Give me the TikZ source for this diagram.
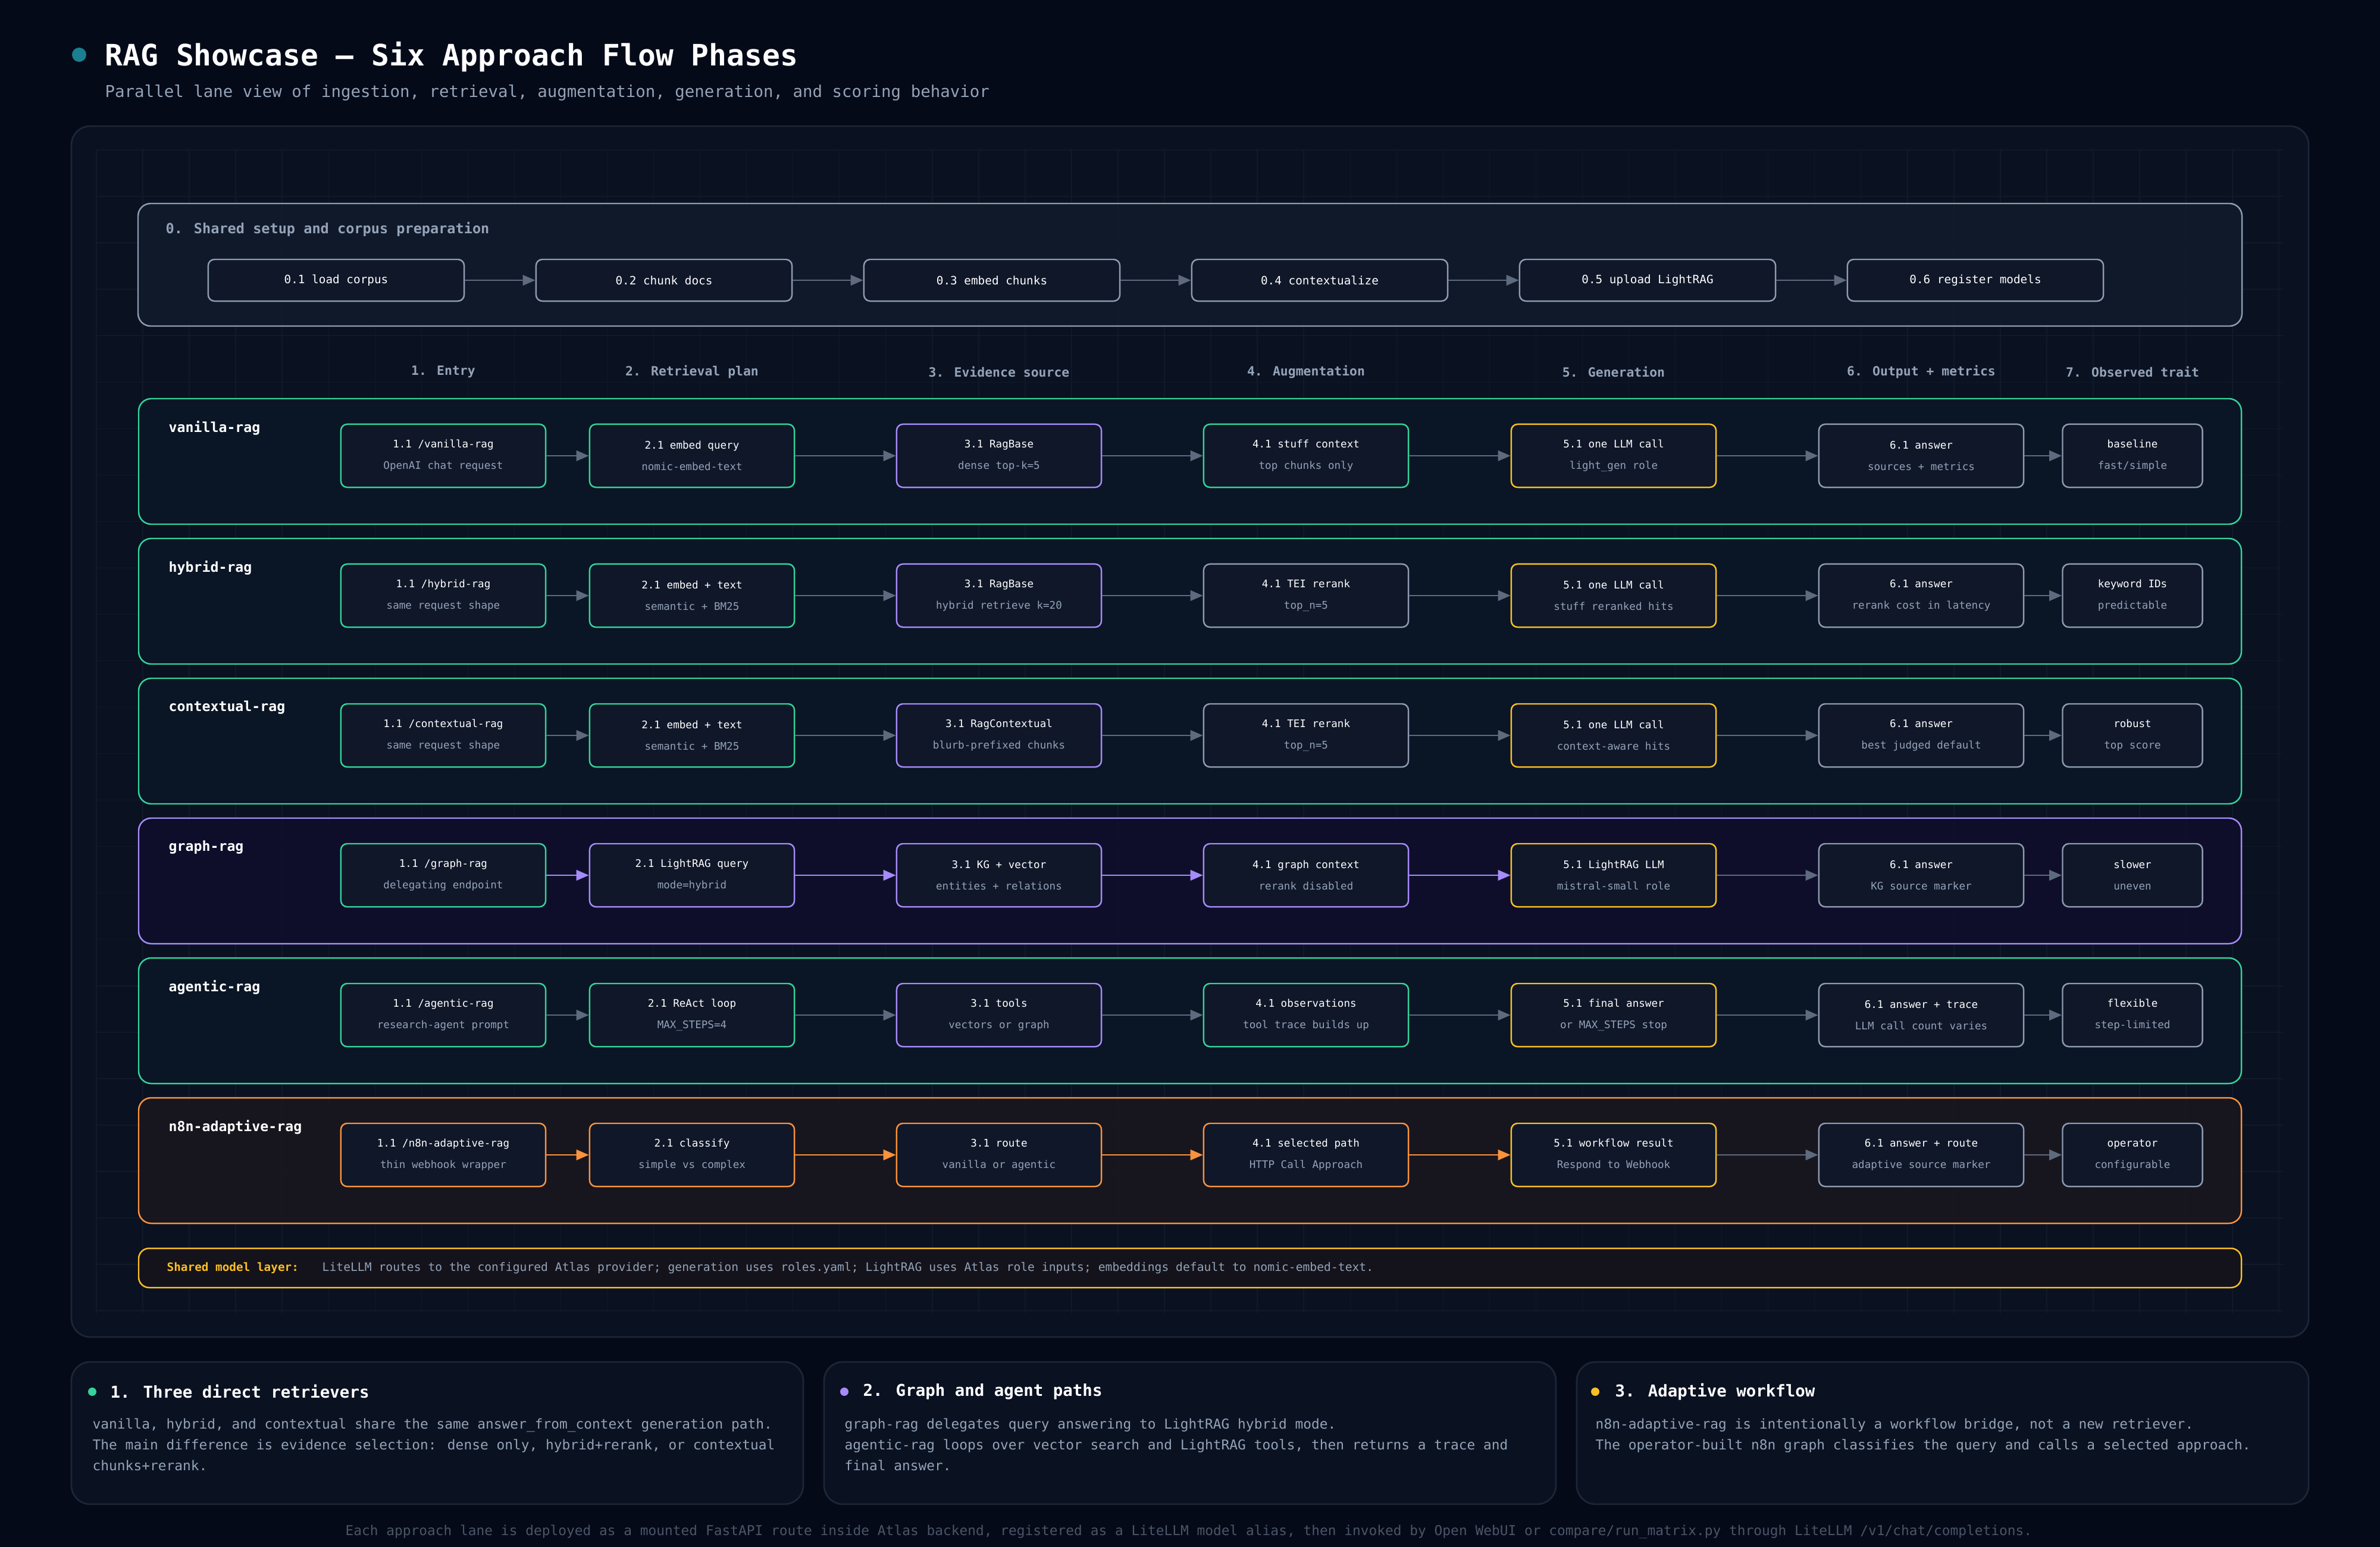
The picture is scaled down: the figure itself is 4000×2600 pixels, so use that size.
\documentclass[tikz,border=0pt]{standalone}
\usepackage{fontspec}
\setmainfont{DejaVu Sans Mono}
\usepackage{xcolor}
\definecolor{bgdark}{HTML}{050A18}
\definecolor{panelfill}{HTML}{0A1121}
\definecolor{panelline}{HTML}{1C2637}
\definecolor{gridcol}{HTML}{111A2A}
\definecolor{setupfill}{HTML}{111A2B}
\definecolor{slate}{HTML}{8E9BB0}
\definecolor{subgray}{HTML}{94A3B8}
\definecolor{arrowgray}{HTML}{5E6A7D}
\definecolor{cellfill}{HTML}{0F1729}
\definecolor{mygreen}{HTML}{34D399}
\definecolor{mypurple}{HTML}{A78BFA}
\definecolor{myamber}{HTML}{FBBF24}
\definecolor{myorange}{HTML}{FB923C}
\definecolor{myteal}{HTML}{1A7F91}
\definecolor{greenlane}{HTML}{0A1626}
\definecolor{purplelane}{HTML}{0F0E2C}
\definecolor{orangelane}{HTML}{19171F}
\definecolor{amberfill}{HTML}{14131B}
\definecolor{footgray}{HTML}{4B5566}
\usepackage{tikz}
\usetikzlibrary{arrows.meta}
\newcommand{\cellText}[2]{#1\\{\color{subgray}#2}}

\begin{document}
\begin{tikzpicture}[x=0.01cm,y=-0.01cm,line join=round,>={Triangle[length=6pt,width=5pt]}]
	\tikzstyle{cell}=[draw,rounded corners=3pt,fill=cellfill,line width=0.7pt,minimum width=3.44cm,minimum height=1.06cm,align=center,text=white,font=\fontsize{5}{10.2}\selectfont,inner sep=0pt];
	\tikzstyle{gbox}=[cell,draw=mygreen];
	\tikzstyle{pbox}=[cell,draw=mypurple];
	\tikzstyle{ybox}=[cell,draw=myamber];
	\tikzstyle{obox}=[cell,draw=myorange];
	\tikzstyle{wbox}=[cell,draw=slate];
	\tikzstyle{trait}=[minimum width=2.35cm];
	\tikzstyle{prep}=[draw=slate,rounded corners=3pt,fill=cellfill,line width=0.7pt,minimum width=4.3cm,minimum height=0.7cm,text=white,font=\fontsize{5.5}{6.6}\selectfont];
	\tikzstyle{flow}=[->,draw=arrowgray,line width=0.8pt];
	\tikzstyle{lane}=[rounded corners=6pt,line width=0.7pt,fill opacity=0.92];
	\tikzstyle{lanelabel}=[anchor=west,text=white,font=\bfseries\fontsize{6.6}{8}\selectfont,inner sep=0pt];
	\tikzstyle{colhead}=[text=subgray,font=\bfseries\fontsize{6.1}{7.3}\selectfont,inner sep=0pt];
	\tikzstyle{card}=[fill=panelfill,draw=panelline,line width=0.8pt,rounded corners=9pt];
	\tikzstyle{cardhead}=[anchor=west,text=white,font=\bfseries\fontsize{7.8}{9.4}\selectfont,inner sep=0pt];
	\tikzstyle{cardbody}=[anchor=north west,align=left,text=subgray,font=\fontsize{6.5}{9.96}\selectfont,inner sep=0pt];
	%%
	\useasboundingbox (0,0) rectangle (4000,2600);
	\fill[bgdark] (0,0) rectangle (4000,2600);
	%% Title
	\fill[myteal] (133,92) circle[radius=12];
	\node[anchor=west,text=white,font=\bfseries\fontsize{14.1}{17}\selectfont,inner sep=0pt] (title) at (176,96) {RAG Showcase – Six Approach Flow Phases};
	\node[anchor=west,text=subgray,font=\fontsize{7.8}{9.4}\selectfont,inner sep=0pt] (subtitle) at (176,156) {Parallel lane view of ingestion, retrieval, augmentation, generation, and scoring behavior};
	%% Panel and grid
	\path[fill=panelfill,draw=panelline,line width=0.8pt,rounded corners=9pt] (120,212) rectangle (3880,2247);
	\begin{scope}[shift={(162,252)}]
		\draw[gridcol,line width=0.4pt,step=0.78cm] (0,0) grid (3675,1955);
	\end{scope}
	%% Shared setup
	\path[fill=setupfill,draw=slate,line width=0.7pt,rounded corners=6pt,fill opacity=0.95] (232,342) rectangle (3768,548);
	\node[anchor=west,text=subgray,font=\bfseries\fontsize{6.7}{8}\selectfont,inner sep=0pt] (prephead) at (278,385) {0. Shared setup and corpus preparation};
	\node[prep] (s1) at (565,471)  {0.1 load corpus};
	\node[prep] (s2) at (1116,471) {0.2 chunk docs};
	\node[prep] (s3) at (1667,471) {0.3 embed chunks};
	\node[prep] (s4) at (2218,471) {0.4 contextualize};
	\node[prep] (s5) at (2769,471) {0.5 upload LightRAG};
	\node[prep] (s6) at (3320,471) {0.6 register models};
	\draw[flow] (s1) -- (s2);
	\draw[flow] (s2) -- (s3);
	\draw[flow] (s3) -- (s4);
	\draw[flow] (s4) -- (s5);
	\draw[flow] (s5) -- (s6);
	%% Column heads
	\node[colhead] (c1) at (745,625)  {1. Entry};
	\node[colhead] (c2) at (1163,625) {2. Retrieval plan};
	\node[colhead] (c3) at (1679,625) {3. Evidence source};
	\node[colhead] (c4) at (2195,625) {4. Augmentation};
	\node[colhead] (c5) at (2712,625) {5. Generation};
	\node[colhead] (c6) at (3229,625) {6. Output + metrics};
	\node[colhead] (c7) at (3584,625) {7. Observed trait};
	%% Lanes
	\path[lane,draw=mygreen,fill=greenlane]   (233,670)  rectangle (3767,881);
	\path[lane,draw=mygreen,fill=greenlane]   (233,905)  rectangle (3767,1116);
	\path[lane,draw=mygreen,fill=greenlane]   (233,1140) rectangle (3767,1351);
	\path[lane,draw=mypurple,fill=purplelane] (233,1375) rectangle (3767,1586);
	\path[lane,draw=mygreen,fill=greenlane]   (233,1610) rectangle (3767,1821);
	\path[lane,draw=myorange,fill=orangelane] (233,1845) rectangle (3767,2056);
	\node[lanelabel] (lv) at (283,719)  {vanilla-rag};
	\node[lanelabel] (lh) at (283,954)  {hybrid-rag};
	\node[lanelabel] (lc) at (283,1189) {contextual-rag};
	\node[lanelabel] (lg) at (283,1424) {graph-rag};
	\node[lanelabel] (la) at (283,1659) {agentic-rag};
	\node[lanelabel] (ln) at (283,1894) {n8n-adaptive-rag};
	%% vanilla-rag
	\node[gbox] (v1) at (745,766)  {\cellText{1.1 /vanilla-rag}{OpenAI chat request}};
	\node[gbox] (v2) at (1163,766) {\cellText{2.1 embed query}{nomic-embed-text}};
	\node[pbox] (v3) at (1679,766) {\cellText{3.1 RagBase}{dense top-k=5}};
	\node[gbox] (v4) at (2195,766) {\cellText{4.1 stuff context}{top chunks only}};
	\node[ybox] (v5) at (2712,766) {\cellText{5.1 one LLM call}{light\_gen role}};
	\node[wbox] (v6) at (3229,766) {\cellText{6.1 answer}{sources + metrics}};
	\node[wbox,trait] (v7) at (3584,766) {\cellText{baseline}{fast/simple}};
	\draw[flow] (v1) -- (v2);
	\draw[flow] (v2) -- (v3);
	\draw[flow] (v3) -- (v4);
	\draw[flow] (v4) -- (v5);
	\draw[flow] (v5) -- (v6);
	\draw[flow] (v6) -- (v7);
	%% hybrid-rag
	\node[gbox] (h1) at (745,1001)  {\cellText{1.1 /hybrid-rag}{same request shape}};
	\node[gbox] (h2) at (1163,1001) {\cellText{2.1 embed + text}{semantic + BM25}};
	\node[pbox] (h3) at (1679,1001) {\cellText{3.1 RagBase}{hybrid retrieve k=20}};
	\node[wbox] (h4) at (2195,1001) {\cellText{4.1 TEI rerank}{top\_n=5}};
	\node[ybox] (h5) at (2712,1001) {\cellText{5.1 one LLM call}{stuff reranked hits}};
	\node[wbox] (h6) at (3229,1001) {\cellText{6.1 answer}{rerank cost in latency}};
	\node[wbox,trait] (h7) at (3584,1001) {\cellText{keyword IDs}{predictable}};
	\draw[flow] (h1) -- (h2);
	\draw[flow] (h2) -- (h3);
	\draw[flow] (h3) -- (h4);
	\draw[flow] (h4) -- (h5);
	\draw[flow] (h5) -- (h6);
	\draw[flow] (h6) -- (h7);
	%% contextual-rag
	\node[gbox] (x1) at (745,1236)  {\cellText{1.1 /contextual-rag}{same request shape}};
	\node[gbox] (x2) at (1163,1236) {\cellText{2.1 embed + text}{semantic + BM25}};
	\node[pbox] (x3) at (1679,1236) {\cellText{3.1 RagContextual}{blurb-prefixed chunks}};
	\node[wbox] (x4) at (2195,1236) {\cellText{4.1 TEI rerank}{top\_n=5}};
	\node[ybox] (x5) at (2712,1236) {\cellText{5.1 one LLM call}{context-aware hits}};
	\node[wbox] (x6) at (3229,1236) {\cellText{6.1 answer}{best judged default}};
	\node[wbox,trait] (x7) at (3584,1236) {\cellText{robust}{top score}};
	\draw[flow] (x1) -- (x2);
	\draw[flow] (x2) -- (x3);
	\draw[flow] (x3) -- (x4);
	\draw[flow] (x4) -- (x5);
	\draw[flow] (x5) -- (x6);
	\draw[flow] (x6) -- (x7);
	%% graph-rag
	\node[gbox] (g1) at (745,1471)  {\cellText{1.1 /graph-rag}{delegating endpoint}};
	\node[pbox] (g2) at (1163,1471) {\cellText{2.1 LightRAG query}{mode=hybrid}};
	\node[pbox] (g3) at (1679,1471) {\cellText{3.1 KG + vector}{entities + relations}};
	\node[pbox] (g4) at (2195,1471) {\cellText{4.1 graph context}{rerank disabled}};
	\node[ybox] (g5) at (2712,1471) {\cellText{5.1 LightRAG LLM}{mistral-small role}};
	\node[wbox] (g6) at (3229,1471) {\cellText{6.1 answer}{KG source marker}};
	\node[wbox,trait] (g7) at (3584,1471) {\cellText{slower}{uneven}};
	\draw[flow,mypurple] (g1) -- (g2);
	\draw[flow,mypurple] (g2) -- (g3);
	\draw[flow,mypurple] (g3) -- (g4);
	\draw[flow,mypurple] (g4) -- (g5);
	\draw[flow] (g5) -- (g6);
	\draw[flow] (g6) -- (g7);
	%% agentic-rag
	\node[gbox] (a1) at (745,1706)  {\cellText{1.1 /agentic-rag}{research-agent prompt}};
	\node[gbox] (a2) at (1163,1706) {\cellText{2.1 ReAct loop}{MAX\_STEPS=4}};
	\node[pbox] (a3) at (1679,1706) {\cellText{3.1 tools}{vectors or graph}};
	\node[gbox] (a4) at (2195,1706) {\cellText{4.1 observations}{tool trace builds up}};
	\node[ybox] (a5) at (2712,1706) {\cellText{5.1 final answer}{or MAX\_STEPS stop}};
	\node[wbox] (a6) at (3229,1706) {\cellText{6.1 answer + trace}{LLM call count varies}};
	\node[wbox,trait] (a7) at (3584,1706) {\cellText{flexible}{step-limited}};
	\draw[flow] (a1) -- (a2);
	\draw[flow] (a2) -- (a3);
	\draw[flow] (a3) -- (a4);
	\draw[flow] (a4) -- (a5);
	\draw[flow] (a5) -- (a6);
	\draw[flow] (a6) -- (a7);
	%% n8n-adaptive-rag
	\node[obox] (n1) at (745,1941)  {\cellText{1.1 /n8n-adaptive-rag}{thin webhook wrapper}};
	\node[obox] (n2) at (1163,1941) {\cellText{2.1 classify}{simple vs complex}};
	\node[obox] (n3) at (1679,1941) {\cellText{3.1 route}{vanilla or agentic}};
	\node[obox] (n4) at (2195,1941) {\cellText{4.1 selected path}{HTTP Call Approach}};
	\node[ybox] (n5) at (2712,1941) {\cellText{5.1 workflow result}{Respond to Webhook}};
	\node[wbox] (n6) at (3229,1941) {\cellText{6.1 answer + route}{adaptive source marker}};
	\node[wbox,trait] (n7) at (3584,1941) {\cellText{operator}{configurable}};
	\draw[flow,myorange] (n1) -- (n2);
	\draw[flow,myorange] (n2) -- (n3);
	\draw[flow,myorange] (n3) -- (n4);
	\draw[flow,myorange] (n4) -- (n5);
	\draw[flow] (n5) -- (n6);
	\draw[flow] (n6) -- (n7);
	%% Shared model layer
	\path[draw=myamber,fill=amberfill,line width=0.7pt,rounded corners=5pt] (233,2098) rectangle (3767,2164);
	\node[anchor=west,text=myamber,font=\bfseries\fontsize{5.5}{6.6}\selectfont,inner sep=0pt] (smlhead) at (280,2131) {Shared model layer:};
	\node[anchor=west,text=subgray,font=\fontsize{5.6}{6.7}\selectfont,inner sep=0pt] (smltext) at (541,2131) {LiteLLM routes to the configured Atlas provider; generation uses roles.yaml; LightRAG uses Atlas role inputs; embeddings default to nomic-embed-text.};
	%% Cards
	\path[card] (120,2289) rectangle (1350,2528);
	\path[card] (1385,2289) rectangle (2615,2528);
	\path[card] (2650,2289) rectangle (3880,2528);
	\fill[mygreen]  (155,2339)  circle[radius=7];
	\fill[mypurple] (1419,2339) circle[radius=7];
	\fill[myamber]  (2681,2339) circle[radius=7];
	\node[cardhead] (k1) at (185,2339)  {1. Three direct retrievers};
	\node[cardhead] (k2) at (1450,2339) {2. Graph and agent paths};
	\node[cardhead] (k3) at (2714,2339) {3. Adaptive workflow};
	\node[cardbody] (b1) at (155,2383) {vanilla, hybrid, and contextual share the same answer\_from\_context generation path.\\The main difference is evidence selection: dense only, hybrid+rerank, or contextual\\chunks+rerank.};
	\node[cardbody] (b2) at (1419,2383) {graph-rag delegates query answering to LightRAG hybrid mode.\\agentic-rag loops over vector search and LightRAG tools, then returns a trace and\\final answer.};
	\node[cardbody] (b3) at (2681,2383) {n8n-adaptive-rag is intentionally a workflow bridge, not a new retriever.\\The operator-built n8n graph classifies the query and calls a selected approach.};
	%% Footer
	\node[text=footgray,font=\fontsize{6.5}{7.8}\selectfont,inner sep=0pt] (foot) at (1998,2574) {Each approach lane is deployed as a mounted FastAPI route inside Atlas backend, registered as a LiteLLM model alias, then invoked by Open WebUI or compare/run\_matrix.py through LiteLLM /v1/chat/completions.};
\end{tikzpicture}
\end{document}
